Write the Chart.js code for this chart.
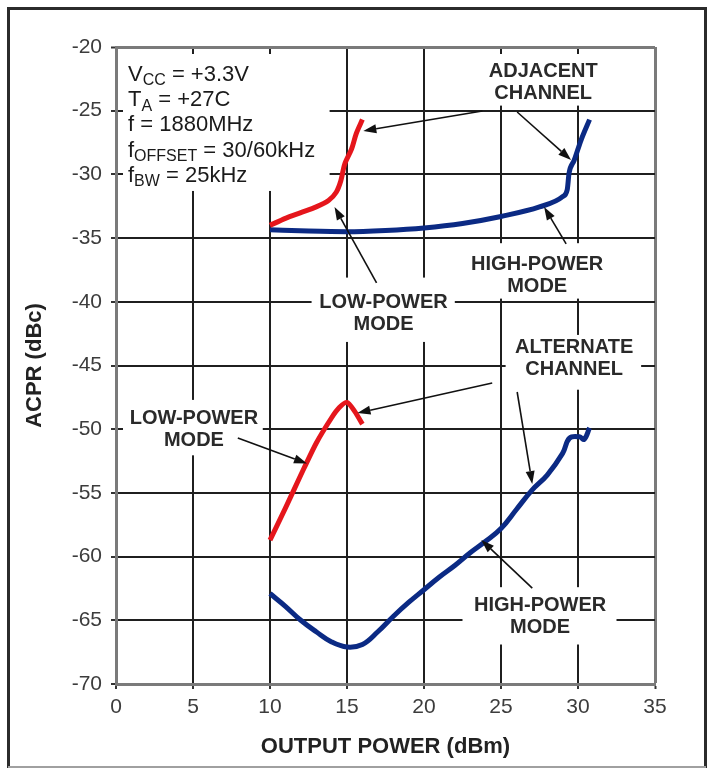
<!DOCTYPE html>
<html>
<head>
<meta charset="utf-8">
<script src="https://cdn.jsdelivr.net/npm/chart.js@4.4.1/dist/chart.umd.min.js"></script>
<style>
  html, body { margin: 0; padding: 0; background: #fff; }
  canvas { display: block; }
</style>
</head>
<body>
<canvas id="acpr" width="712" height="770"></canvas>
<script>
const FONT = '"Liberation Sans", Arial, Helvetica, sans-serif';

// Adjacent channel, low-power mode: output power (dBm) / ACPR (dBc)
const adjLowPower  = [10, 11, 12, 13, 13.8, 14.3, 14.6, 14.85, 15.3, 15.6, 16];
const adjLowAcpr   = [-34.0, -33.45, -33.0, -32.55, -32.05, -31.4, -30.5, -29.2, -28.0, -26.8, -25.7];

// Adjacent channel, high-power mode
const adjHighPower = [10, 12.5, 15, 17.5, 20, 22.5, 25, 27.5, 29, 29.3, 29.42, 29.75, 30.2, 30.75];
const adjHighAcpr  = [-34.35, -34.45, -34.5, -34.4, -34.2, -33.85, -33.3, -32.55, -31.75, -31.2, -29.9, -28.9, -27.3, -25.7];

// Alternate channel, low-power mode
const altLowPower  = [10, 11, 12, 13, 14, 14.5, 15, 15.5, 16];
const altLowAcpr   = [-58.7, -56.2, -53.6, -51.1, -49.1, -48.3, -47.9, -48.6, -49.6];

// Alternate channel, high-power mode
const altHighPower = [10, 11, 12, 13, 14, 15, 16, 17, 18, 19, 20, 21, 22, 23, 24, 25, 26, 27, 28, 29, 29.45, 30.1, 30.4, 30.75];
const altHighAcpr  = [-62.9, -63.9, -65.0, -65.9, -66.7, -67.1, -66.9, -65.9, -64.7, -63.6, -62.6, -61.6, -60.7, -59.7, -58.8, -57.8, -56.3, -54.8, -53.6, -51.9, -50.7, -50.6, -50.8, -49.9];

// Axis ticks
const powerTicks = [0, 5, 10, 15, 20, 25, 30, 35];
const acprTicks  = [-20, -25, -30, -35, -40, -45, -50, -55, -60, -65, -70];

// Test conditions block (main text, subscript, rest)
const conditions = [
  ['V', 'CC', ' = +3.3V'],
  ['T', 'A', ' = +27C'],
  ['f = 1880MHz', '', ''],
  ['f', 'OFFSET', ' = 30/60kHz'],
  ['f', 'BW', ' = 25kHz']
];

// Curve callouts, centred at (power, acpr)
const callouts = [
  { lines: ['ADJACENT', 'CHANNEL'], x: 27.74, y: -22.75 },
  { lines: ['HIGH-POWER', 'MODE'],  x: 27.35, y: -37.94 },
  { lines: ['LOW-POWER', 'MODE'],   x: 17.37, y: -40.88 },
  { lines: ['ALTERNATE', 'CHANNEL'], x: 29.75, y: -44.45 },
  { lines: ['LOW-POWER', 'MODE'],   x: 5.06,  y: -50.02 },
  { lines: ['HIGH-POWER', 'MODE'],  x: 27.54, y: -64.7 }
];

// Leader arrows: [fromPower, fromAcpr, toPower, toAcpr]
const leaders = [
  [23.79, -25.02, 16.06, -26.59],
  [26.05, -25.1, 29.55, -28.87],
  [29.23, -35.46, 27.8, -32.56],
  [16.92, -38.52, 14.19, -32.56],
  [24.43, -46.37, 15.68, -48.73],
  [26.05, -47.08, 27.03, -54.3],
  [27.03, -62.47, 23.72, -58.7],
  [7.91, -50.69, 12.4, -52.7]
];

// Grid areas left blank behind the text: [power0, power1, acpr0, acpr1]
const blanks = [
  [0, 13.87, -20, -31.3],
  [23.9, 31.7, -20, -24.6],
  [22.4, 32.1, -35.4, -39.75],
  [12.7, 22.0, -38.1, -43.15],
  [25.3, 34.1, -42.6, -46.9],
  [22.5, 32.5, -62.4, -66.9],
  [0, 9.53, -47.7, -52.05]
];

const RED = '#e5161c';
const BLUE = '#0b2a84';
const GRID = '#1f1f1f';
const FRAME = '#7a7a7a';

const toPoints = (xs, ys) => xs.map((x, i) => ({ x, y: ys[i] }));

function curve(xs, ys, color, smooth) {
  const ds = {
    data: toPoints(xs, ys),
    showLine: true,
    borderColor: color,
    backgroundColor: color,
    borderWidth: 5,
    pointRadius: 0,
    borderCapStyle: 'butt',
    borderJoinStyle: 'round'
  };
  if (smooth === 'monotone') ds.cubicInterpolationMode = 'monotone';
  else ds.tension = smooth;
  return ds;
}

function drawArrow(ctx, x1, y1, x2, y2) {
  const ang = Math.atan2(y2 - y1, x2 - x1);
  const len = 13, half = 4.5;
  const bx = x2 - len * Math.cos(ang), by = y2 - len * Math.sin(ang);
  ctx.beginPath();
  ctx.moveTo(x1, y1);
  ctx.lineTo(bx, by);
  ctx.stroke();
  ctx.beginPath();
  ctx.moveTo(x2, y2);
  ctx.lineTo(bx + half * Math.sin(ang), by - half * Math.cos(ang));
  ctx.lineTo(bx - half * Math.sin(ang), by + half * Math.cos(ang));
  ctx.closePath();
  ctx.fill();
}

const decorations = {
  id: 'decorations',
  beforeDraw(chart) {
    const ctx = chart.ctx;
    ctx.save();
    ctx.fillStyle = '#fff';
    ctx.fillRect(0, 0, chart.width, chart.height);
    ctx.strokeStyle = '#2b2b2b';
    ctx.lineWidth = 3;
    ctx.beginPath();
    ctx.moveTo(8.5, 768);
    ctx.lineTo(8.5, 8.5);
    ctx.lineTo(705.5, 8.5);
    ctx.lineTo(705.5, 768);
    ctx.stroke();
    ctx.strokeStyle = '#a0a0a0';
    ctx.lineWidth = 2;
    ctx.beginPath();
    ctx.moveTo(8, 767);
    ctx.lineTo(706, 767);
    ctx.stroke();
    ctx.restore();
  },
  beforeDatasetsDraw(chart) {
    const { ctx, chartArea: a, scales: { x, y } } = chart;
    ctx.save();
    ctx.beginPath();
    ctx.rect(a.left + 7, a.top + 7, a.right - a.left - 14, a.bottom - a.top - 14);
    ctx.clip();
    ctx.fillStyle = '#fff';
    blanks.forEach(([x0, x1, y0, y1]) => {
      const px0 = x.getPixelForValue(x0), px1 = x.getPixelForValue(x1);
      const py0 = y.getPixelForValue(y0), py1 = y.getPixelForValue(y1);
      ctx.fillRect(Math.min(px0, px1), Math.min(py0, py1), Math.abs(px1 - px0), Math.abs(py1 - py0));
    });
    ctx.restore();
  },
  afterDatasetsDraw(chart) {
    const { ctx, scales: { x, y } } = chart;
    ctx.save();

    // test conditions
    ctx.fillStyle = '#1a1a1a';
    ctx.textBaseline = 'middle';
    ctx.textAlign = 'left';
    const left = x.getPixelForValue(0.78);
    const top = y.getPixelForValue(-22.2);
    conditions.forEach(([main, sub, rest], i) => {
      const cy = top + i * 25.2;
      let cx = left;
      ctx.font = '22px ' + FONT;
      ctx.fillText(main, cx, cy);
      cx += ctx.measureText(main).width;
      if (sub) {
        ctx.font = '16px ' + FONT;
        ctx.fillText(sub, cx, cy + 6);
        cx += ctx.measureText(sub).width;
      }
      if (rest) {
        ctx.font = '22px ' + FONT;
        ctx.fillText(rest, cx, cy);
      }
    });

    // callout labels
    ctx.font = 'bold 20px ' + FONT;
    ctx.fillStyle = '#2a2a2a';
    ctx.textAlign = 'center';
    callouts.forEach(c => {
      const cx = x.getPixelForValue(c.x);
      const cy = y.getPixelForValue(c.y);
      const n = c.lines.length;
      c.lines.forEach((t, i) => ctx.fillText(t, cx, cy + (i - (n - 1) / 2) * 22));
    });

    // leader arrows
    ctx.strokeStyle = '#111';
    ctx.fillStyle = '#111';
    ctx.lineWidth = 1.6;
    leaders.forEach(([x1, y1, x2, y2]) => {
      drawArrow(ctx,
        x.getPixelForValue(x1), y.getPixelForValue(y1),
        x.getPixelForValue(x2), y.getPixelForValue(y2));
    });
    ctx.restore();
  }
};

const edgeGrid = (edges) => ({
  color: c => edges.includes(c.tick && c.tick.value) ? FRAME : GRID,
  lineWidth: c => edges.includes(c.tick && c.tick.value) ? 3 : 2,
  tickColor: '#333',
  tickLength: 5,
  tickWidth: 2
});

new Chart(document.getElementById('acpr'), {
  type: 'scatter',
  data: {
    datasets: [
      curve(adjLowPower, adjLowAcpr, RED, 0.3),
      curve(altLowPower, altLowAcpr, RED, 0.25),
      curve(adjHighPower, adjHighAcpr, BLUE, 'monotone'),
      curve(altHighPower, altHighAcpr, BLUE, 0.4)
    ]
  },
  options: {
    responsive: false,
    animation: false,
    devicePixelRatio: 1,
    layout: { padding: { top: 47, right: 57, left: 0, bottom: 0 } },
    plugins: { legend: { display: false }, tooltip: { enabled: false } },
    scales: {
      x: {
        type: 'linear',
        min: powerTicks[0],
        max: powerTicks[powerTicks.length - 1],
        afterBuildTicks: s => { s.ticks = powerTicks.map(v => ({ value: v })); },
        afterFit: s => { s.height = 86; },
        ticks: { font: { family: FONT, size: 21 }, color: '#3c3c3c', padding: 6, maxRotation: 0 },
        grid: edgeGrid([35]),
        border: { display: true, color: FRAME, width: 3 },
        title: {
          display: true,
          text: 'OUTPUT POWER (dBm)',
          font: { family: FONT, size: 22, weight: 'bold' },
          color: '#222',
          padding: { top: 0, bottom: 10 }
        }
      },
      y: {
        type: 'linear',
        min: acprTicks[acprTicks.length - 1],
        max: acprTicks[0],
        afterBuildTicks: s => { s.ticks = acprTicks.slice().reverse().map(v => ({ value: v })); },
        afterFit: s => { s.width = 116; },
        ticks: { font: { family: FONT, size: 21 }, color: '#3c3c3c', padding: 9 },
        grid: edgeGrid([-20]),
        border: { display: true, color: FRAME, width: 3 },
        title: {
          display: true,
          text: 'ACPR (dBc)',
          font: { family: FONT, size: 22, weight: 'bold' },
          color: '#222',
          padding: { top: 22, bottom: 0 }
        }
      }
    }
  },
  plugins: [decorations]
});
</script>
</body>
</html>
